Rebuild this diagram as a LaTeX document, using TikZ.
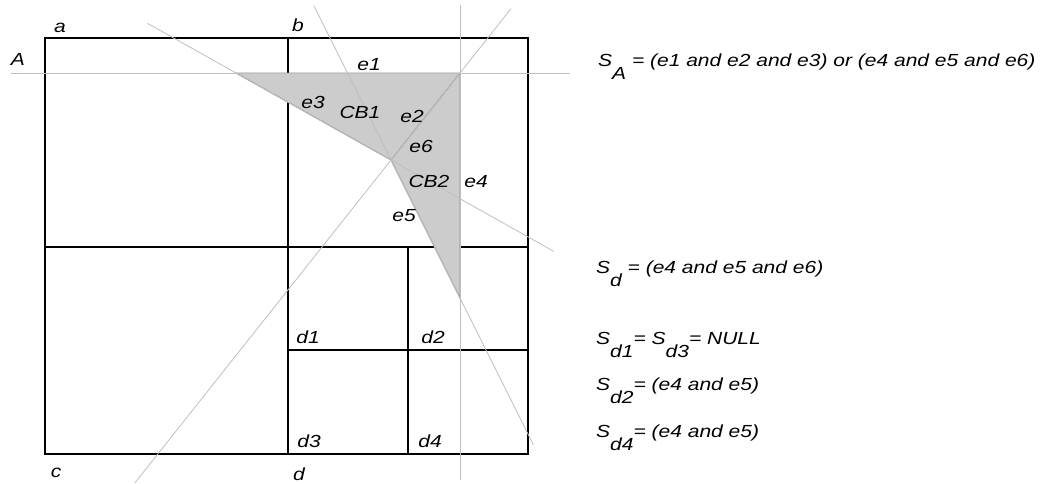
\documentclass[tikz,border=0pt]{standalone}
\usepackage{fontspec}
\setmainfont[FakeStretch=1.2]{Liberation Sans}
\usetikzlibrary{calc}
\newcommand\lo[1]{\raisebox{-0.76em}{#1}}
\tikzset{
  cell/.style={line width=1.6pt, black},
  cut/.style={line width=0.8pt, black!25},
  cb/.style={fill=black!20, draw=black!45, line width=1pt},
  lbl/.style={anchor=base, inner sep=0pt, font=\fontsize{17.5}{20}\selectfont\itshape},
  eq/.style={lbl, anchor=base west}
}
\begin{document}
\begin{tikzpicture}[x=1pt, y=-1pt]
\useasboundingbox (0,0) rectangle (1044,483);
% quadtree cells
\draw[cell] (45,38) rectangle (528,454);
\draw[cell] (288,38)--(288,454) (45,247)--(528,247);
\draw[cell] (408,247)--(408,454) (288,350)--(528,350);
% corners of the two convex blocks
\coordinate (p1) at (236,73);
\coordinate (p2) at (460,73);
\coordinate (p3) at (391,160);
\coordinate (p4) at (460,298);
\filldraw[cb] (p1)--(p2)--(p4)--(p3)--cycle;
\draw[draw=black!45, line width=1pt] (p2)--(p3);
% supporting lines of the edges
\draw[cut] (11,73)--(570,73);
\draw[cut] (460,5)--(460,480);
\draw[cut] ($(p2)!-0.74!(p3)$)--($(p2)!4.71!(p3)$);
\draw[cut] ($(p1)!-0.57!(p3)$)--($(p1)!2.05!(p3)$);
\draw[cut] ($(p3)!-1.12!(p4)$)--($(p3)!2.065!(p4)$);
% labels
\node[lbl] (la) at (60,32) {a};
\node[lbl] (lb) at (298,31) {b};
\node[lbl] (lc) at (56,477) {c};
\node[lbl] (ld) at (299,480) {d};
\node[lbl] (lA) at (18,65) {A};
\node[lbl] (e1) at (369,70) {e1};
\node[lbl] (e2) at (412,122) {e2};
\node[lbl] (e3) at (313,108) {e3};
\node[lbl] (e4) at (476,187) {e4};
\node[lbl] (e5) at (404,221) {e5};
\node[lbl] (e6) at (421,152) {e6};
\node[lbl] (cb1) at (360,118) {CB1};
\node[lbl] (cb2) at (429,187) {CB2};
\node[lbl] (d1) at (308,343) {d1};
\node[lbl] (d2) at (433,343) {d2};
\node[lbl] (d3) at (309,447) {d3};
\node[lbl] (d4) at (430,447) {d4};
% statements
\node[eq] (sA) at (598,66) {S\lo{A} = (e1 and e2 and e3) or (e4 and e5 and e6)};
\node[eq] (sd) at (596,273) {S\lo{d} = (e4 and e5 and e6)};
\node[eq] (sd13) at (596,344) {S\lo{d1}= S\lo{d3}= NULL};
\node[eq] (sd2) at (596,390) {S\lo{d2}= (e4 and e5)};
\node[eq] (sd4) at (596,437) {S\lo{d4}= (e4 and e5)};
\end{tikzpicture}
\end{document}
